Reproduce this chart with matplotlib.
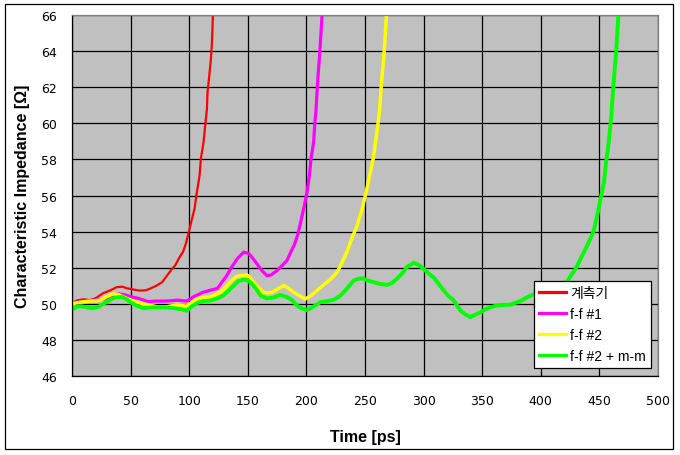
import matplotlib
matplotlib.use("Agg")
import matplotlib.pyplot as plt
from matplotlib.patches import Rectangle

plt.rcParams['font.family'] = ['DejaVu Sans', 'Noto Sans CJK KR']

series_names = ["계측기", "f-f #1", "f-f #2", "f-f #2 + m-m"]
series_colors = ["#FF0000", "#FF00FF", "#FFFF00", "#00FF00"]

t_red = [0, 5, 10, 15, 20, 27, 33, 38, 43, 47, 52, 58, 63, 67, 72, 77, 81, 85, 88,
         92, 95, 97.5, 101, 104.6, 106.6, 108.9, 110, 112.3, 113.7, 115.2, 115.7,
         117.2, 118.6, 119.5, 120.3, 121]
v_red = [50.05, 50.2, 50.25, 50.2, 50.3, 50.6, 50.75, 50.92, 50.95, 50.86, 50.8,
         50.73, 50.75, 50.85, 51.0, 51.2, 51.55, 51.9, 52.12, 52.6, 52.9, 53.4,
         54.33, 55.26, 56.18, 57.1, 58.03, 58.95, 59.87, 60.8, 61.72, 62.64, 63.57,
         64.49, 65.97, 66.5]

t_mag = [0, 10, 20, 30, 35, 40, 45, 50, 57, 65, 72, 80, 90, 98, 104, 112, 118, 124,
         128, 132, 136, 141, 146.5, 150.7, 154, 158, 162, 166.4, 170, 175, 179,
         183.5, 187, 190, 192.5, 194.5, 197.7, 200.6, 202.6, 204, 206.2, 207.1,
         208.3, 209.1, 210, 211.1, 212, 213.4, 214]
v_mag = [50.05, 50.15, 50.2, 50.3, 50.45, 50.55, 50.5, 50.4, 50.3, 50.12, 50.15,
         50.15, 50.2, 50.15, 50.4, 50.64, 50.75, 50.85, 51.2, 51.55, 52.0, 52.49,
         52.86, 52.8, 52.55, 52.2, 51.85, 51.56, 51.6, 51.84, 52.1, 52.4, 52.9,
         53.3, 53.8, 54.33, 55.26, 56.18, 57.1, 58.03, 58.95, 59.87, 60.8, 61.72,
         62.64, 63.57, 64.49, 65.97, 66.5]

t_yel = [0, 8, 16, 24, 30, 35, 40, 47, 54, 61, 68, 75, 82, 89.6, 98, 103, 106.7,
         112, 118, 126.6, 131, 135, 140, 144, 149.3, 152, 155, 159, 163.5, 167,
         170.7, 175, 180.6, 184, 189.1, 194, 199.1, 204, 209, 213, 217.7, 222,
         226.2, 229, 231.9, 234.8, 237.6, 240, 243.3, 247.6, 251, 254, 257, 259,
         260.9, 262.6, 263.5, 264.6, 266, 266.9, 268.3, 269]
v_yel = [50.0, 50.1, 50.15, 50.2, 50.4, 50.55, 50.5, 50.3, 50.1, 50.0, 49.9, 49.81,
         49.85, 49.94, 49.87, 50.1, 50.27, 50.35, 50.37, 50.64, 50.9, 51.2, 51.5,
         51.56, 51.6, 51.45, 51.2, 50.9, 50.64, 50.6, 50.64, 50.8, 51.01, 50.9,
         50.64, 50.45, 50.27, 50.45, 50.73, 50.95, 51.2, 51.45, 51.75, 52.1, 52.49,
         52.9, 53.41, 53.8, 54.33, 55.26, 56.18, 57.1, 58.03, 58.95, 59.87, 60.8,
         61.72, 62.64, 63.57, 64.49, 65.97, 66.5]

t_grn = [0, 4, 8, 13, 18, 23, 27, 31, 35, 39, 43, 47, 50, 55, 61, 68, 75, 81, 87,
         93, 98, 102, 107, 112, 118, 124, 129, 134, 138, 142, 146.5, 150, 153, 157,
         161, 166.4, 172, 177.8, 183.5, 188, 192, 196, 200.6, 205, 212, 218, 223.3,
         228, 231.9, 236, 240.4, 244, 247.6, 252, 257.5, 263, 268.9, 273, 277.5,
         282, 286, 291.7, 296, 300.2, 304, 308.7, 313, 317.3, 321, 325.8, 331.5,
         336, 340, 344, 348.6, 353, 357.1, 362, 368.5, 374, 379.9, 384, 388.5, 395,
         405, 415, 420, 422.6, 426, 429.7, 434, 438.2, 441.5, 444.8, 448.2, 451,
         453.9, 455.3, 457.3, 458.8, 460.2, 461.1, 462.2, 463.3, 464.5, 465.3,
         466.2, 467]
v_grn = [49.65, 49.85, 49.87, 49.8, 49.76, 49.85, 50.0, 50.15, 50.31, 50.37, 50.37,
         50.25, 50.09, 49.9, 49.76, 49.8, 49.81, 49.8, 49.76, 49.7, 49.62, 49.85,
         50.05, 50.15, 50.18, 50.3, 50.45, 50.75, 51.01, 51.25, 51.34, 51.3, 51.15,
         50.85, 50.45, 50.3, 50.35, 50.49, 50.37, 50.2, 49.9, 49.75, 49.65, 49.8,
         50.09, 50.15, 50.23, 50.4, 50.64, 50.95, 51.29, 51.38, 51.42, 51.3, 51.2,
         51.1, 51.05, 51.15, 51.4, 51.7, 52.05, 52.27, 52.15, 51.93, 51.7, 51.45,
         51.1, 50.73, 50.45, 50.18, 49.62, 49.4, 49.26, 49.4, 49.53, 49.7, 49.81,
         49.9, 49.94, 49.95, 50.09, 50.2, 50.37, 50.55, 50.75, 50.95, 51.15, 51.25,
         51.6, 51.93, 52.5, 53.04, 53.5, 53.97, 54.89, 55.81, 56.74, 57.66, 58.58,
         59.51, 60.43, 61.35, 62.28, 63.2, 64.12, 65.05, 65.97, 66.5]

x_ticks = [0, 50, 100, 150, 200, 250, 300, 350, 400, 450, 500]
y_ticks = [46, 48, 50, 52, 54, 56, 58, 60, 62, 64, 66]

label_font = ['Liberation Sans', 'Noto Sans CJK KR']

W, H = 680, 456
fig = plt.figure(figsize=(W / 100, H / 100), dpi=100)
fig.patch.set_facecolor("white")
fig.patches.append(Rectangle((5 / W, 6 / H), 668 / W, 445 / H, transform=fig.transFigure,
                             fill=False, edgecolor="black", linewidth=0.9, zorder=0))

ax = fig.add_axes([71.9 / W, (H - 377) / H, (658 - 71.9) / W, (377 - 16.1) / H])
ax.set_facecolor("#C0C0C0")

data = [(t_red, v_red), (t_mag, v_mag), (t_yel, v_yel), (t_grn, v_grn)]
widths = [1.6, 2.3, 2.5, 2.8]
for (t, v), name, c, lw in zip(data, series_names, series_colors, widths):
    ax.plot(t, v, color=c, linewidth=lw, label=name, solid_joinstyle="miter")

ax.set_xlim(0, 500)
ax.set_ylim(46, 66)
ax.set_xticks(x_ticks)
ax.set_yticks(y_ticks)
ax.set_xticklabels([str(x) for x in x_ticks])
ax.set_yticklabels([str(y) for y in y_ticks])
ax.grid(True, color="black", linewidth=0.9)
ax.set_axisbelow(True)
ax.tick_params(axis="both", length=0, labelsize=9, colors="black")
ax.tick_params(axis="x", pad=13)
ax.tick_params(axis="y", pad=10.7)
for s in ["top", "right"]:
    ax.spines[s].set_color("#808080")
    ax.spines[s].set_linewidth(0.9)
for s in ["left", "bottom"]:
    ax.spines[s].set_color("black")
    ax.spines[s].set_linewidth(0.9)

ax.set_xlabel("Time [ps]", fontsize=11.5, fontweight="bold", family=label_font, labelpad=16)
ax.set_ylabel("Characteristic Impedance [Ω]", fontsize=11.5, fontweight="bold",
              family=label_font, labelpad=8)

leg = ax.legend(loc="lower right", bbox_to_anchor=(0.988, 0.022), borderaxespad=0,
                fancybox=False, framealpha=1, edgecolor="black",
                prop={'family': label_font, 'size': 10},
                handlelength=2.0, handletextpad=0.27, labelspacing=0.5,
                borderpad=0.36)
leg.get_frame().set_linewidth(0.9)
for line in leg.get_lines():
    line.set_linewidth(2.3)

fig.savefig("out.png", dpi=100, facecolor="white")
